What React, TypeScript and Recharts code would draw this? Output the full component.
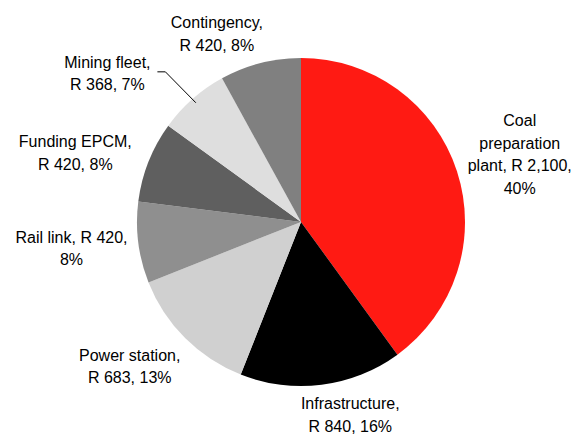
import { PieChart, Pie, Cell } from 'recharts';

const categories = [
  'Coal preparation plant',
  'Infrastructure',
  'Power station',
  'Rail link',
  'Funding EPCM',
  'Mining fleet',
  'Contingency',
];
const costs = [2100, 840, 683, 420, 420, 368, 420];
const colors = ['#FF1A13', '#000000', '#D0D0D0', '#8F8F8F', '#5F5F5F', '#DEDEDE', '#808080'];

// label layout: distance of the text block centre from the pie centre,
// angle nudge (deg, clockwise) and the wrap width in characters
const labelDist = [229, 199, 224, 231, 236, 244, 206];
const labelShift = [0.8, -7.1, 4.9, 0.6, -4.6, -11.1, -9.7];
const labelWrap = [15, 15, 14, 17, 13, 13, 12];
const leaderLine = [false, false, false, false, false, true, false];

const total = costs.reduce((a, b) => a + b, 0);
const data = categories.map((name, i) => ({ name, value: costs[i] }));

const FONT = 16;
const LINE_H = 22.5;

function wrap(text: string, max: number) {
  const words = text.split(' ');
  const lines: string[] = [];
  let cur = '';
  for (const w of words) {
    const next = cur ? cur + ' ' + w : w;
    if (next.length > max && cur) {
      lines.push(cur);
      cur = w;
    } else {
      cur = next;
    }
  }
  if (cur) lines.push(cur);
  return lines;
}

function renderLabel(props: any) {
  const { cx, cy, midAngle, outerRadius, index } = props;
  const value = costs[index];
  const pct = Math.round((value / total) * 100);
  const text = `${categories[index]}, R ${value.toLocaleString('en-US')}, ${pct}%`;
  const lines = wrap(text, labelWrap[index]);
  const rad = Math.PI / 180;
  const theta = (90 - midAngle + labelShift[index]) * rad;
  const x = cx + labelDist[index] * Math.sin(theta);
  const y = cy - labelDist[index] * Math.cos(theta);
  const firstBase = y - ((lines.length - 1) * LINE_H) / 2 + FONT * 0.35;

  let leader = null;
  if (leaderLine[index]) {
    const a = (90 - midAngle) * rad;
    const ex = cx + (outerRadius - 5) * Math.sin(a);
    const ey = cy - (outerRadius - 5) * Math.cos(a);
    const sx = x + 50;
    const sy = firstBase + 4;
    leader = (
      <polyline
        points={`${sx},${sy} ${sx + 8},${sy} ${ex},${ey}`}
        fill="none"
        stroke="#000"
        strokeWidth={1}
      />
    );
  }

  return (
    <g key={`lbl-${index}`}>
      {leader}
      <text
        x={x}
        y={firstBase}
        textAnchor="middle"
        fill="#000"
        fontSize={FONT}
        fontFamily="'Liberation Sans', Arial, sans-serif"
      >
        {lines.map((l, i) => (
          <tspan key={i} x={x} y={firstBase + i * LINE_H}>
            {l}
          </tspan>
        ))}
      </text>
    </g>
  );
}

export default function App() {
  return (
    <div style={{ position: 'absolute', left: 0, top: 0, width: 577, height: 436, background: '#fff' }}>
      <PieChart width={577} height={436} margin={{ top: 0, right: 0, bottom: 0, left: 0 }}>
        <Pie
          data={data}
          dataKey="value"
          nameKey="name"
          cx={301}
          cy={222}
          outerRadius={164}
          startAngle={90}
          endAngle={-270}
          stroke="none"
          label={renderLabel}
          labelLine={false}
          isAnimationActive={false}
        >
          {data.map((d, i) => (
            <Cell key={d.name} fill={colors[i]} />
          ))}
        </Pie>
      </PieChart>
    </div>
  );
}
